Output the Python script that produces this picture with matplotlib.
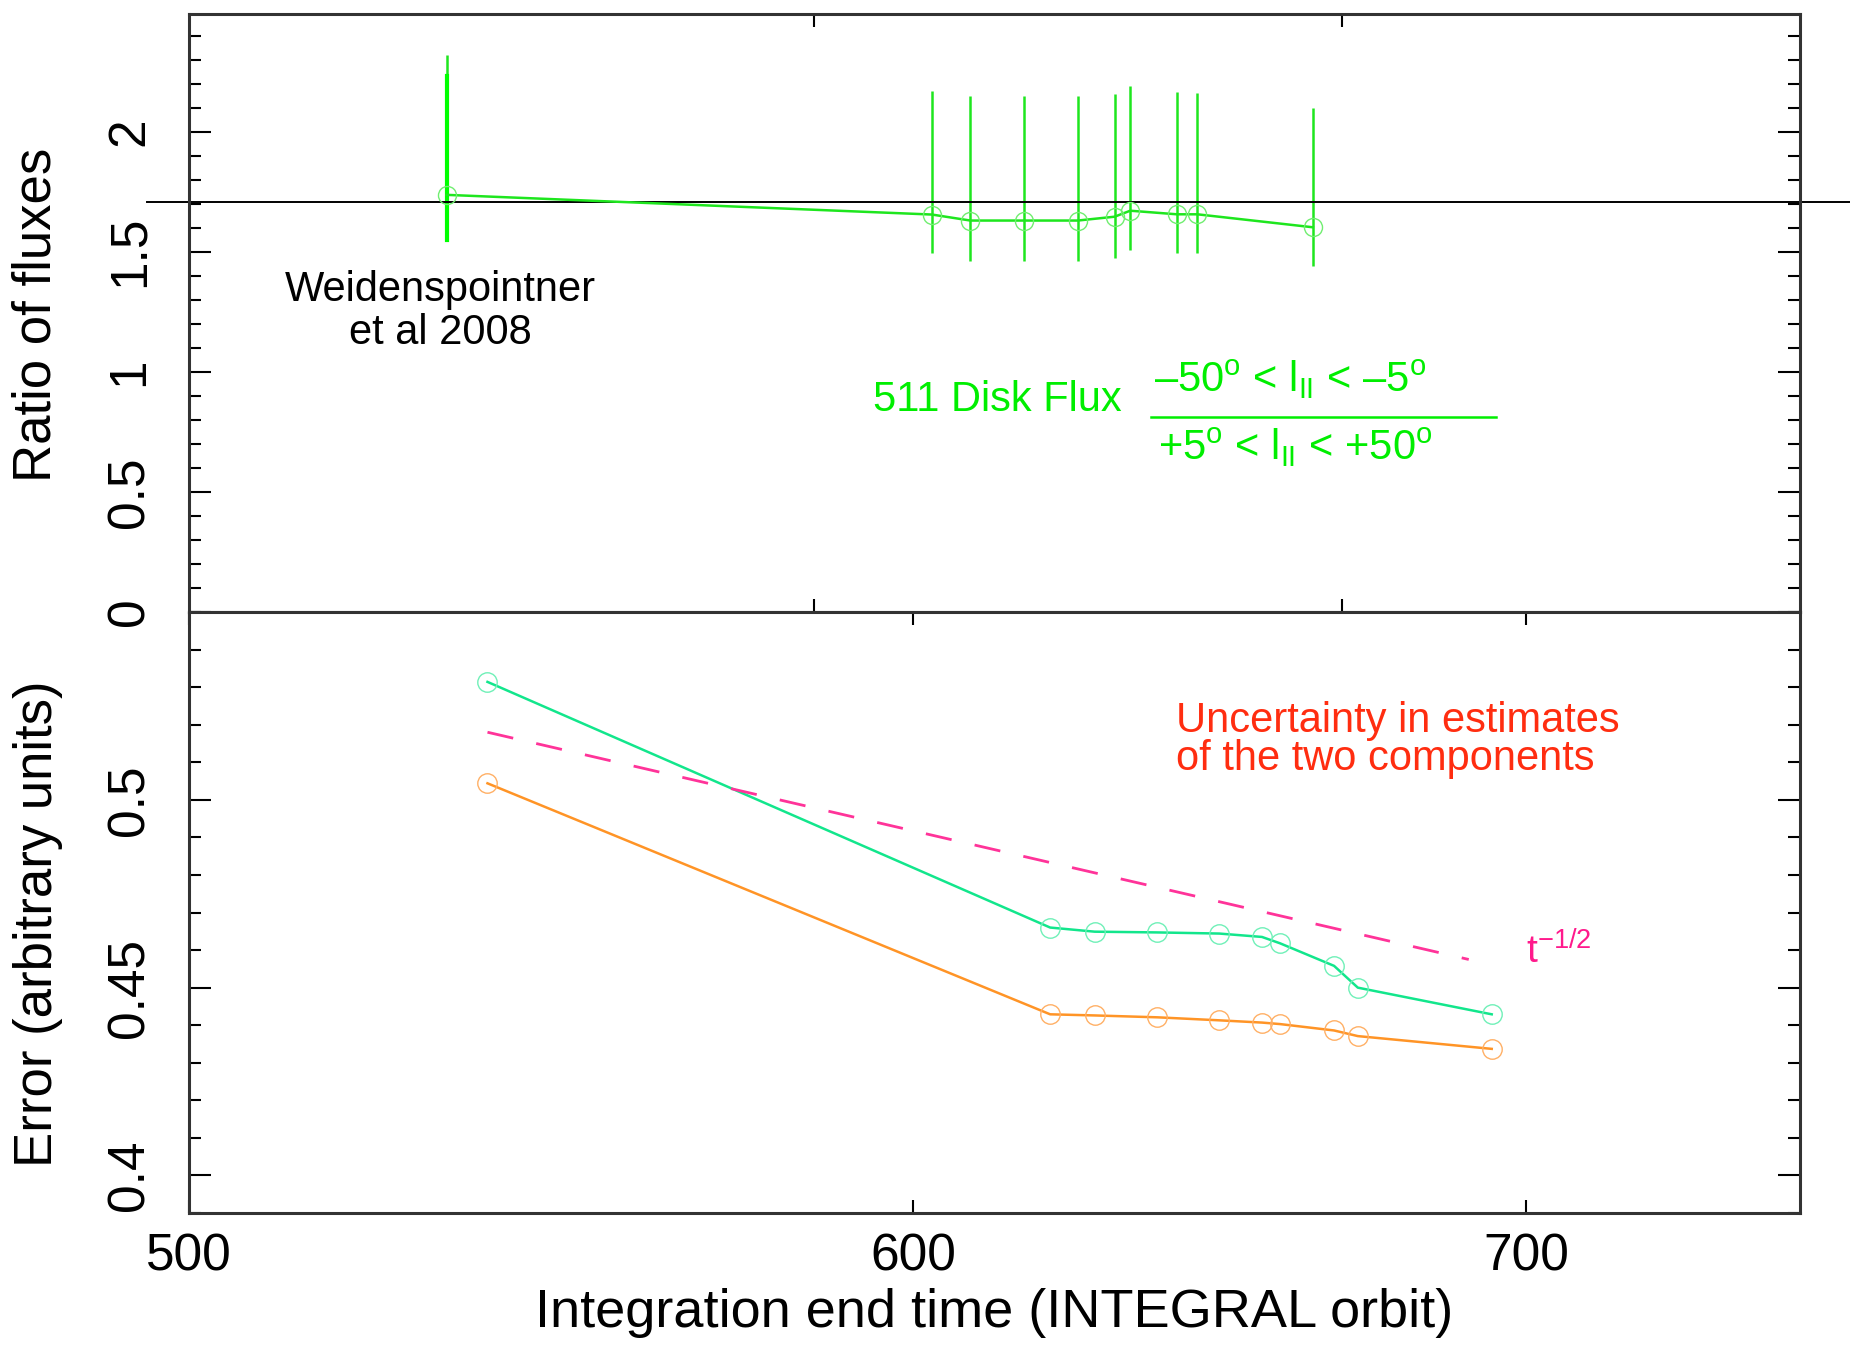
import numpy as np
import matplotlib
matplotlib.use("Agg")
import matplotlib.pyplot as plt
import matplotlib.transforms as mtransforms
from matplotlib.lines import Line2D
from matplotlib.ticker import FixedLocator, FixedFormatter, NullLocator, MultipleLocator

plt.rcParams['font.family'] = ['Liberation Sans', 'DejaVu Sans']
plt.rcParams['mathtext.fontset'] = 'custom'
plt.rcParams['mathtext.rm'] = 'Liberation Sans'
plt.rcParams['mathtext.it'] = 'Liberation Sans'

#%% data

# integration end time (INTEGRAL orbit)
orbit = [539, 621, 628, 638, 648, 655, 658, 667, 671, 694]

# top panel: ratio of disk fluxes (negative / positive longitudes)
ratio = [1.737, 1.655, 1.630, 1.630, 1.630, 1.646, 1.671, 1.656, 1.656, 1.602]
ratio_hi = [2.32, 2.169, 2.148, 2.148, 2.148, 2.156, 2.189, 2.166, 2.160, 2.100]
ratio_lo = [1.548, 1.495, 1.462, 1.462, 1.462, 1.475, 1.508, 1.495, 1.495, 1.441]
weid_hi_alt = 2.23          # second (inner) bar of the 2008 point
ratio_ref = 1.708           # horizontal reference line

# bottom panel: uncertainty of the two components
err_comp1 = [0.5314, 0.4660, 0.4649, 0.4647, 0.4644, 0.4635, 0.4618, 0.4558, 0.4500, 0.4429]
err_comp2 = [0.5044, 0.4429, 0.4426, 0.4421, 0.4413, 0.4407, 0.4403, 0.4386, 0.4371, 0.4337]

# t^-1/2 guide line
guide_orbit = [539, 690]
guide_err = [0.518, 0.4575]

top_yticks = [0, 0.5, 1, 1.5, 2]
top_ylabels = ['0', '0.5', '1', '1.5', '2']
bot_yticks = [0.4, 0.45, 0.5]
bot_ylabels = ['0.4', '0.45', '0.5']
bot_xticks = [500, 600, 700]
bot_xlabels = ['500', '600', '700']
top_xticks = [600, 700]

#%% figure
fig = plt.figure(figsize=(18.5, 13.46), dpi=100)
ax1 = fig.add_axes([0.1022, 0.5453, 0.8708, 0.4443])
ax2 = fig.add_axes([0.1022, 0.0988, 0.8708, 0.4465])

c_top = '#1ee61e'
c_green = '#12e68c'
c_orange = '#ff9426'
c_dash = '#ff3399'

# top panel
ratio_arr = np.array(ratio)
yerr = [ratio_arr - np.array(ratio_lo), np.array(ratio_hi) - ratio_arr]
ax1.errorbar(orbit, ratio, yerr=yerr, fmt='-o', color=c_top, lw=1.8, elinewidth=1.8,
             capsize=0, ms=13, mfc='none', mec='#70ee70', mew=1.0)
ax1.plot([orbit[0], orbit[0]], [ratio_lo[0], weid_hi_alt], color='#00ff00', lw=3.0)

blend = mtransforms.blended_transform_factory(fig.transFigure, ax1.transData)
ax1.add_line(Line2D([147 / 1850, 1.0], [ratio_ref, ratio_ref], transform=blend,
                    color='black', lw=1.4, clip_on=False))

ax1.text(538, 1.25, 'Weidenspointner\net al 2008', fontsize=30, ha='center', va='center',
         linespacing=1.1, color='black')
ax1.text(610.5, 0.883, '511 Disk Flux', fontsize=30, ha='left', va='center', color='#00ee00')
ax1.text(689.5, 0.966, '\u201350$^{\\rm o}$ < l$_{\\rm II}$ < \u20135$^{\\rm o}$', fontsize=30,
         ha='center', va='center', color='#00ee00')
ax1.text(690.5, 0.683, '+5$^{\\rm o}$ < l$_{\\rm II}$ < +50$^{\\rm o}$', fontsize=30,
         ha='center', va='center', color='#00ee00')
ax1.plot([662, 732], [0.814, 0.814], color='#00ee00', lw=1.8)

# bottom panel
ax2.plot(orbit, err_comp1, '-o', color=c_green, lw=1.8, ms=14, mfc='none', mec='#70f0b8', mew=1.0)
ax2.plot(orbit, err_comp2, '-o', color=c_orange, lw=1.8, ms=14, mfc='none', mec='#ffb066', mew=1.0)
ax2.plot(guide_orbit, guide_err, color=c_dash, lw=2.0, dashes=(9.5, 8.5))

ax2.text(641, 0.516, 'Uncertainty in estimates\nof the two components', fontsize=30,
         ha='left', va='center', linespacing=0.95, color='#ff2d10')
ax2.text(700, 0.4595, 't$^{-1/2}$', fontsize=28, ha='left', va='center', color='#ff1a8c')

#%% axes styling
for ax in (ax1, ax2):
    ax.set_xscale('log')
    for sp in ax.spines.values():
        sp.set_linewidth(2.2)
        sp.set_color('#333333')
    ax.tick_params(which='both', direction='in', top=True, right=True, width=1.5,
                   color='black', labelsize=37)
    ax.tick_params(axis='x', which='major', length=9.5, pad=14)
    ax.tick_params(axis='y', which='major', length=16, pad=25)
    ax.tick_params(axis='y', which='minor', length=8.5)
    ax.xaxis.set_minor_locator(NullLocator())
    ax.yaxis.set_minor_locator(MultipleLocator(0.1 if ax is ax1 else 0.01))

ax1.set_xlim(500, 800)
ax1.set_ylim(0, 2.49)
ax1.xaxis.set_major_locator(FixedLocator(top_xticks))
ax1.tick_params(axis='x', labelbottom=False)
ax1.set_yticks(top_yticks)
ax1.set_yticklabels(top_ylabels, rotation=90, va='center')

ax2.set_xlim(500, 750)
ax2.set_ylim(0.39, 0.55)
ax2.xaxis.set_major_locator(FixedLocator(bot_xticks))
ax2.xaxis.set_major_formatter(FixedFormatter(bot_xlabels))
ax2.set_yticks(bot_yticks)
ax2.set_yticklabels(bot_ylabels, rotation=90, va='center')

ax1.set_ylabel('Ratio of fluxes', fontsize=38, va='center')
ax1.yaxis.set_label_coords(-0.095, 0.497)
ax2.set_ylabel('Error (arbitrary units)', fontsize=38, va='center')
ax2.yaxis.set_label_coords(-0.094, 0.481)
ax2.set_xlabel('Integration end time (INTEGRAL orbit)', fontsize=39, va='center')
ax2.xaxis.set_label_coords(0.5, -0.166)

fig.savefig('out.png', dpi=100)
